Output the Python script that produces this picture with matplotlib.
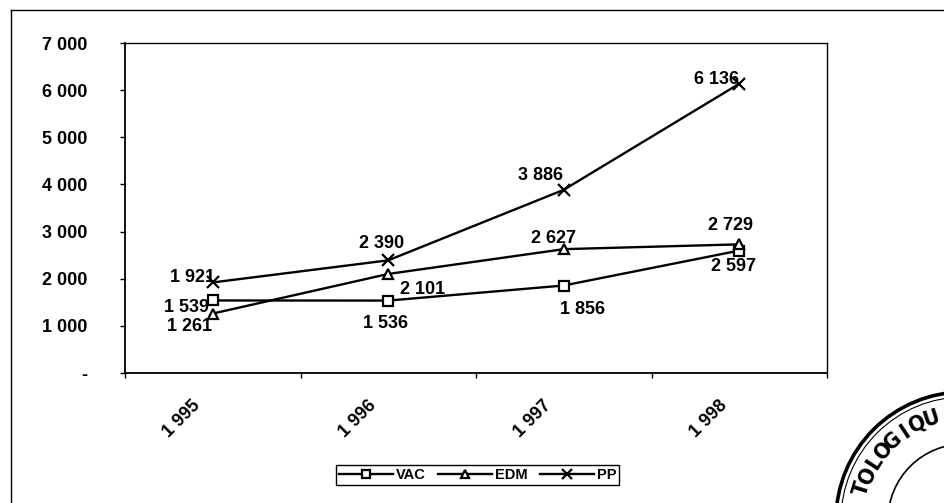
##
## === DEPENDENCIES
##

import matplotlib
matplotlib.use("Agg")
import matplotlib.pyplot as plt
import numpy
from matplotlib.patches import Circle
from matplotlib.ticker import FixedLocator, FuncFormatter
from matplotlib.transforms import ScaledTranslation

##
## === DATA
##

years = ["1 995", "1 996", "1 997", "1 998"]
vac_values = [1539, 1536, 1856, 2597]
edm_values = [1261, 2101, 2627, 2729]
pp_values = [1921, 2390, 3886, 6136]
series_names = ["VAC", "EDM", "PP"]
y_ticks = [0, 1000, 2000, 3000, 4000, 5000, 6000, 7000]
stamp_letters = ["T", "O", "L", "O", "G", "I", "Q", "U"]

##
## === STYLE
##

FIG_W, FIG_H = 945, 503
DPI = 100
FONT = ["Liberation Sans", "DejaVu Sans"]
PX = 72 / DPI  # points per pixel

# data-label offsets in pixels (dx right, dy up), one list per series
vac_offsets = [(-26, -7), (-3, -23), (19, -24), (-6, -16)]
edm_offsets = [(-23, -13), (34, -16), (-10, 11), (-9, 19)]
pp_offsets = [(-20, 5), (-7, 17), (-23, 14), (-23, 4)]

plt.rcParams["font.family"] = FONT


def fmt_thousands(value, _pos=None):
    if value == 0:
        return "-"
    return f"{int(round(value)):,}".replace(",", " ")


##
## === MAIN
##


def main() -> None:
    fig = plt.figure(figsize=(FIG_W / DPI, FIG_H / DPI), dpi=DPI)
    fig.patch.set_facecolor("white")

    ax = fig.add_axes([125 / FIG_W, 1 - 373 / FIG_H, 702 / FIG_W, 330 / FIG_H])
    x_pos = numpy.arange(len(years))

    series = [
        (vac_values, "s", 7, vac_offsets),
        (edm_values, "^", 7.5, edm_offsets),
        (pp_values, "x", 8, pp_offsets),
    ]
    handles = []
    for (values, marker, msize, offsets), name in zip(series, series_names):
        (line,) = ax.plot(
            x_pos, values,
            color="black", linewidth=1.7,
            marker=marker, markersize=msize,
            markerfacecolor="white", markeredgecolor="black",
            markeredgewidth=1.6, label=name, zorder=3,
        )
        handles.append(line)
        for xi, value, (dx, dy) in zip(x_pos, values, offsets):
            ax.annotate(
                fmt_thousands(value),
                xy=(xi, value), xytext=(dx * PX, dy * PX),
                textcoords="offset points",
                ha="center", va="center",
                fontsize=13, fontweight="bold", color="black", zorder=4,
            )

    ax.set_xlim(-0.5, len(years) - 0.5)
    ax.set_ylim(0, 7000)

    # y axis
    ax.yaxis.set_major_locator(FixedLocator(y_ticks))
    ax.yaxis.set_major_formatter(FuncFormatter(fmt_thousands))
    ax.tick_params(
        axis="y", direction="out", length=5 * PX, width=1,
        pad=33 * PX, labelsize=13,
    )
    for label in ax.get_yticklabels():
        label.set_fontweight("bold")

    # x axis: ticks between categories, labels at the categories
    ax.xaxis.set_major_locator(FixedLocator(numpy.arange(-0.5, len(years), 1.0)))
    ax.xaxis.set_major_formatter(FuncFormatter(lambda v, p: ""))
    ax.set_xticks(x_pos, years, minor=True)
    ax.tick_params(axis="x", which="major", direction="out", length=5 * PX, width=1)
    ax.tick_params(axis="x", which="minor", length=0, pad=30 * PX, labelsize=13)
    shift = ScaledTranslation(-15 / DPI, 0, fig.dpi_scale_trans)
    for label in ax.get_xticklabels(minor=True):
        label.set_rotation(45)
        label.set_rotation_mode("anchor")
        label.set_horizontalalignment("right")
        label.set_verticalalignment("center")
        label.set_fontweight("bold")
        label.set_transform(label.get_transform() + shift)

    for side in ["left", "bottom"]:
        ax.spines[side].set_linewidth(1.3)
    for side in ["top", "right"]:
        ax.spines[side].set_linewidth(1.0)
    for spine in ax.spines.values():
        spine.set_color("black")

    legend = fig.legend(
        handles=handles, labels=series_names,
        loc="center", bbox_to_anchor=(477.5 / FIG_W, 1 - 475 / FIG_H),
        bbox_transform=fig.transFigure, ncol=3,
        frameon=True, fancybox=False, shadow=False,
        edgecolor="black", facecolor="white", framealpha=1,
        prop={"family": FONT, "size": 10.5, "weight": "bold"},
        handlelength=3.7, handletextpad=0.2, columnspacing=0.85,
        borderpad=0.2, markerscale=0.85,
    )
    legend.get_frame().set_linewidth(1.0)

    # page overlay: outer frame and the stamp, in pixel coordinates
    overlay = fig.add_axes([0, 0, 1, 1], facecolor="none")
    overlay.set_xlim(0, FIG_W)
    overlay.set_ylim(FIG_H, 0)
    overlay.axis("off")
    overlay.plot([10.5, 10.5], [FIG_H, 9.5], color="black", linewidth=1.0)
    overlay.plot([10.5, FIG_W], [9.5, 9.5], color="black", linewidth=1.0)

    cx, cy = 964, 520
    overlay.add_patch(Circle((cx, cy), 128, fill=False, edgecolor="black", linewidth=2.6))
    overlay.add_patch(Circle((cx, cy), 123, fill=False, edgecolor="black", linewidth=0.8))
    overlay.add_patch(Circle((cx, cy), 76, fill=False, edgecolor="black", linewidth=1.2))
    angles = numpy.linspace(163, 108, len(stamp_letters))
    for letter, theta in zip(stamp_letters, angles):
        rad = numpy.deg2rad(theta)
        overlay.text(
            cx + 106 * numpy.cos(rad), cy - 106 * numpy.sin(rad), letter,
            rotation=theta - 90, rotation_mode="anchor",
            ha="center", va="center",
            fontsize=16, fontweight="bold", fontstretch="condensed",
            family=["DejaVu Sans"], color="black",
        )

    fig.savefig("out.png", dpi=DPI, facecolor="white")


if __name__ == "__main__":
    main()
